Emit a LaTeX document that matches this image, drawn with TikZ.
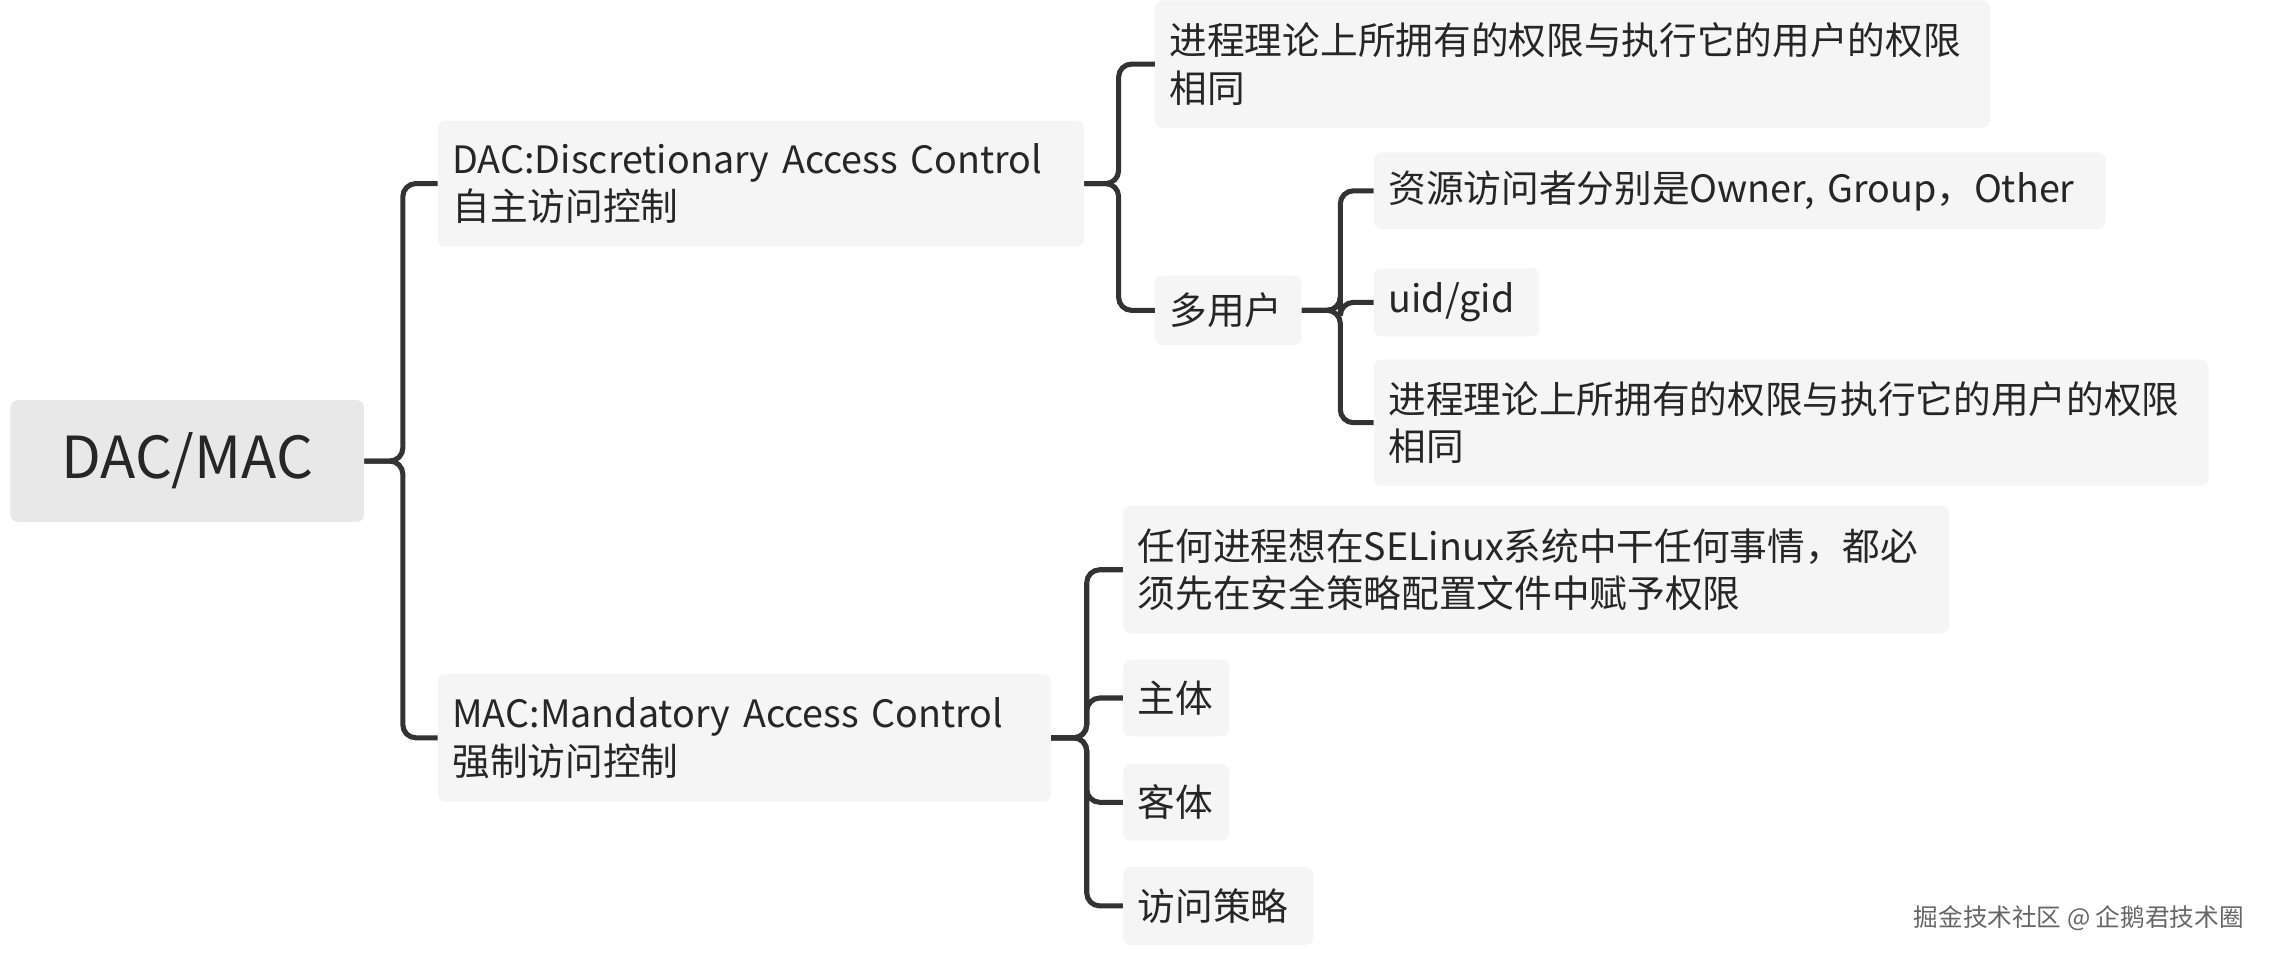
\documentclass[tikz,border=0pt]{standalone}
\usepackage{fontspec}
\setmainfont{Noto Sans CJK SC}
\begin{document}
\begin{tikzpicture}[x=1bp,y=-1bp,
 box/.style={fill=gray!8,rounded corners=5bp,anchor=north west,align=left,inner xsep=10bp,inner ysep=0bp,font=\fontsize{26bp}{33bp}\selectfont,text=black!85},
 ln/.style={line width=3.5bp,draw=black!80,rounded corners=9bp}]
\useasboundingbox (0,0) rectangle (1568,660);
\node[box,fill=gray!18,minimum width=244bp,minimum height=84bp,align=center,font=\fontsize{40bp}{44bp}\selectfont,anchor=north west,text width=224bp] (root) at (7,276) {DAC/MAC};
\node[box,minimum width=446bp,minimum height=87bp,text width=426bp] (dac) at (302,83) {DAC:Discretionary Access Control\\自主访问控制};
\node[box,minimum width=423bp,minimum height=88bp,text width=403bp] (mac) at (302,465) {MAC:Mandatory Access Control\\强制访问控制};
\node[box,minimum width=576bp,minimum height=88bp,text width=556bp] (d1) at (797,0) {进程理论上所拥有的权限与执行它的用户的权限\\相同};
\node[box,minimum width=101bp,minimum height=48bp,text width=81bp] (d2) at (797,190) {多用户};
\node[box,minimum width=505bp,minimum height=53bp,text width=485bp] (u1) at (948,105) {资源访问者分别是Owner, Group，Other};
\node[box,minimum width=114bp,minimum height=47bp,text width=94bp] (u2) at (948,185) {uid/gid};
\node[box,minimum width=576bp,minimum height=87bp,text width=556bp] (u3) at (948,248) {进程理论上所拥有的权限与执行它的用户的权限\\相同};
\node[box,minimum width=570bp,minimum height=88bp,text width=550bp] (m1) at (775,349) {任何进程想在SELinux系统中干任何事情，都必\\须先在安全策略配置文件中赋予权限};
\node[box,minimum width=73bp,minimum height=53bp,text width=53bp] (m2) at (775,455) {主体};
\node[box,minimum width=73bp,minimum height=53bp,text width=53bp] (m3) at (775,527) {客体};
\node[box,minimum width=131bp,minimum height=54bp,text width=111bp] (m4) at (775,598) {访问策略};
\foreach \p/\t/\c in {root/278/dac,root/278/mac,dac/772/d1,dac/772/d2,d2/925/u1,d2/925/u2,d2/925/u3,mac/750/m1,mac/750/m2,mac/750/m3,mac/750/m4}
  \draw[ln] (\p.east) -- (\t,0 |- \p.east) |- (\c.west);
\node[anchor=east,font=\fontsize{17bp}{20bp}\selectfont,text=black!60] (wm) at (1552,634) {掘金技术社区 @ 企鹅君技术圈};
\end{tikzpicture}
\end{document}
